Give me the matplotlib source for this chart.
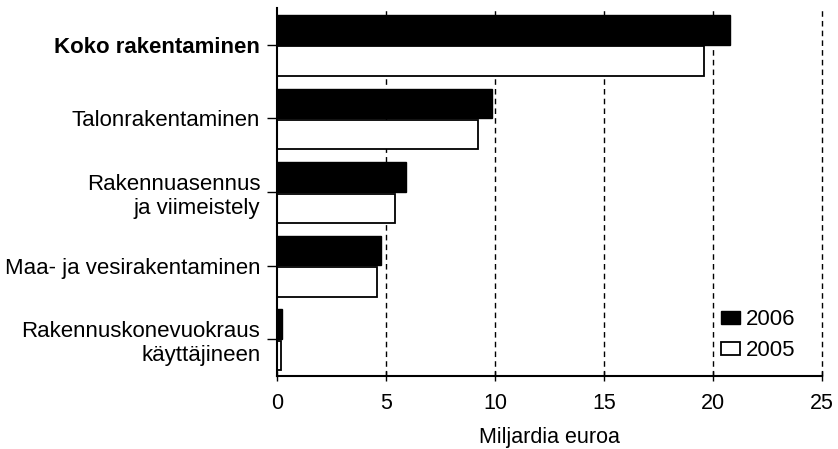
import matplotlib
matplotlib.use("Agg")
import matplotlib.pyplot as plt
import numpy as np

categories = ["Koko rakentaminen", "Talonrakentaminen", "Rakennuasennus\nja viimeistely",
              "Maa- ja vesirakentaminen", "Rakennuskonevuokraus\nkäyttäjineen"]
values_2006 = [20.8, 9.85, 5.9, 4.77, 0.22]
values_2005 = [19.6, 9.2, 5.4, 4.58, 0.18]
series_labels = ["2006", "2005"]
xticks = [0, 5, 10, 15, 20, 25]

plt.rcParams['font.family'] = ['Liberation Sans', 'DejaVu Sans']

fig = plt.figure(figsize=(8.38, 4.49), dpi=100)
ax = fig.add_axes([0.3305, 0.1626, 0.981 - 0.3305, 0.982 - 0.1626])

y = np.arange(len(categories))
h = 0.40
ax.barh(y - h / 2 - 0.005, values_2006, height=h, color='black', edgecolor='black',
        linewidth=1.0, label=series_labels[0], zorder=3)
ax.barh(y + h / 2 + 0.02, values_2005, height=h, color='white', edgecolor='black',
        linewidth=1.3, label=series_labels[1], zorder=3)

ax.set_ylim(len(categories) - 0.5, -0.5)
ax.set_xlim(0, 25)
ax.set_xticks(xticks)
ax.set_xticklabels([str(t) for t in xticks], fontsize=15.5)
ax.set_yticks(y)
ax.set_yticklabels(categories, fontsize=16, ha='right', multialignment='right')
ax.get_yticklabels()[0].set_fontweight('bold')

for t in xticks[1:]:
    ax.axvline(t, color='black', linestyle=(0, (4, 3)), linewidth=1.0, zorder=1, clip_on=False)

for s in ['top', 'right']:
    ax.spines[s].set_visible(False)
for s in ['left', 'bottom']:
    ax.spines[s].set_linewidth(1.5)
    ax.spines[s].set_zorder(4)

ax.tick_params(axis='y', direction='out', length=7, width=1, pad=5)
ax.tick_params(axis='x', direction='inout', length=7, width=1, pad=9)

ax.set_xlabel("Miljardia euroa", fontsize=15.5, labelpad=9)

leg = ax.legend(loc='upper left', bbox_to_anchor=(0.815, 0.181), frameon=False, fontsize=16,
                borderpad=0, borderaxespad=0,
                handlelength=0.86, handleheight=0.55, handletextpad=0.25, labelspacing=0.45)

fig.savefig("out.png", dpi=100)
